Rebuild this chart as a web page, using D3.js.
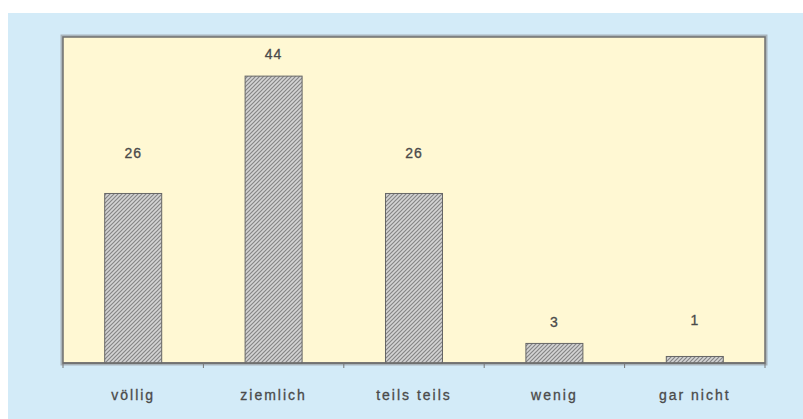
<!DOCTYPE html>
<html>
<head>
<meta charset="utf-8">
<script src="https://cdn.jsdelivr.net/npm/d3@7"></script>
<style>
  body { margin: 0; background: #fff; }
  text { font-family: "Liberation Sans", Arial, sans-serif; fill: #4a4a4a; stroke: #4a4a4a; stroke-width: 0.3px; }
</style>
</head>
<body>
<svg id="chart"></svg>
<script>
// data
const categories = ["völlig", "ziemlich", "teils teils", "wenig", "gar nicht"];
const values = [26, 44, 26, 3, 1];
const yMax = 50;

const width = 803, height = 419;
const plot = {left: 63, top: 37, right: 765, bottom: 363};

const svg = d3.select('#chart')
    .attr('width', width)
    .attr('height', height);

// light blue panel
svg.append('rect')
    .attr('x', 8).attr('y', 13)
    .attr('width', width - 8).attr('height', height - 13)
    .attr('fill', '#d3ebf8');

// hatch pattern for bars
const pat = svg.append('defs').append('pattern')
    .attr('id', 'hatch')
    .attr('patternUnits', 'userSpaceOnUse')
    .attr('width', 4).attr('height', 4);
pat.append('rect').attr('width', 4).attr('height', 4).attr('fill', '#d4d4d4');
pat.append('path')
    .attr('d', 'M-1,1 l2,-2 M0,4 l4,-4 M3,5 l2,-2')
    .attr('stroke', '#858585')
    .attr('stroke-width', 1.2);

// soft shadow of the plot frame
svg.append('rect')
    .attr('x', plot.left - 1).attr('y', plot.top - 1)
    .attr('width', plot.right - plot.left + 2).attr('height', plot.bottom - plot.top + 2)
    .attr('fill', 'none')
    .attr('stroke', '#a9b4bb')
    .attr('stroke-width', 3);

svg.append('rect')
    .attr('x', plot.left).attr('y', plot.top)
    .attr('width', plot.right - plot.left).attr('height', plot.bottom - plot.top)
    .attr('fill', '#fff8d3')
    .attr('stroke', '#6f6f6f')
    .attr('stroke-width', 1.5);

const x = d3.scaleBand()
    .domain(categories)
    .range([plot.left, plot.right])
    .paddingInner(0.594)
    .paddingOuter(0.297);

const y = d3.scaleLinear()
    .domain([0, yMax])
    .range([plot.bottom, plot.top]);

svg.selectAll('.bar')
    .data(values)
  .join('rect')
    .attr('class', 'bar')
    .attr('x', (d, i) => x(categories[i]))
    .attr('y', d => y(d))
    .attr('width', x.bandwidth())
    .attr('height', d => y(0) - y(d))
    .attr('fill', 'url(#hatch)')
    .attr('stroke', '#666')
    .attr('stroke-width', 1);

// value labels (Excel placed them a bit unevenly)
const labelGap = [40, 22, 40, 21, 36];
svg.selectAll('.val')
    .data(values)
  .join('text')
    .attr('class', 'val')
    .attr('x', (d, i) => x(categories[i]) + x.bandwidth() / 2)
    .attr('y', (d, i) => y(d) - labelGap[i])
    .attr('dy', '0.35em')
    .attr('text-anchor', 'middle')
    .style('font-size', '14px')
    .style('letter-spacing', '1px')
    .text(d => d);

// x axis: line, ticks between categories, labels
const step = x.step();
const ticks = d3.range(categories.length + 1).map(i => plot.left + i * step);
svg.append('line')
    .attr('x1', plot.left).attr('x2', plot.right)
    .attr('y1', plot.bottom).attr('y2', plot.bottom)
    .attr('stroke', '#6f6f6f').attr('stroke-width', 1.5);
svg.selectAll('.tick')
    .data(ticks)
  .join('line')
    .attr('class', 'tick')
    .attr('x1', d => d).attr('x2', d => d)
    .attr('y1', plot.bottom).attr('y2', plot.bottom + 5)
    .attr('stroke', '#777');

svg.selectAll('.cat')
    .data(categories)
  .join('text')
    .attr('class', 'cat')
    .attr('x', d => x(d) + x.bandwidth() / 2)
    .attr('y', 395)
    .attr('dy', '0.35em')
    .attr('text-anchor', 'middle')
    .style('font-size', '14px')
    .style('letter-spacing', '2px')
    .text(d => d);
</script>
</body>
</html>
